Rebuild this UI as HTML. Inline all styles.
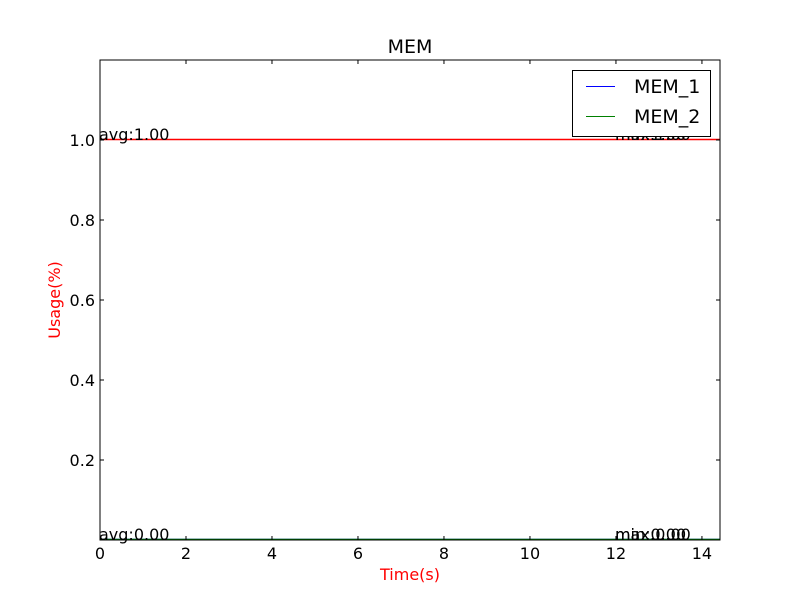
<!DOCTYPE html>
<html><head><meta charset="utf-8"><style>body{margin:0;background:#fff}svg{display:block;font-family:"DejaVu Sans","Liberation Sans",sans-serif}</style></head>
<body>
<svg id="c" width="800" height="600">
<rect width="800" height="600" fill="#fff"/>
<g id="marks"></g>
<g id="axes"></g>
</svg>
<script>
const xTicks=[0,2,4,6,8,10,12,14];
const yTicks=[0.2,0.4,0.6,0.8,1.0];
const times=[0,14.42];
const mem1=[0,0];
const mem2=[0,0];
const memTotal=[1,1];
const annotations=[
 {t:"avg:1.00",x:0,y:1.0},{t:"max:1.00",x:12,y:1.0},{t:"min:1.00",x:12,y:1.0},
 {t:"avg:0.00",x:0,y:0},{t:"max:0.00",x:12,y:0},{t:"min:0.00",x:12,y:0}
];
const X0=100,X1=720,Y0=540,Y1=60,xMax=14.42,yMax=1.2;
const sx=v=>X0+v/xMax*(X1-X0), sy=v=>Y0-v/yMax*(Y0-Y1);
const NS="http://www.w3.org/2000/svg";
function el(tag,attrs,parent,text){const e=document.createElementNS(NS,tag);for(const k in attrs)e.setAttribute(k,attrs[k]);if(text!==undefined)e.textContent=text;parent.appendChild(e);return e;}
const marks=document.getElementById('marks'),axes=document.getElementById('axes');
function line(vals,color,name){const p=el('polyline',{points:times.map((t,i)=>sx(t)+','+(Math.round(sy(vals[i]))-0.5)).join(' '),fill:'none',stroke:color,'stroke-width':1.5},marks);

}
line(mem1,'#0000ff','mem-1-line');
line(mem2,'#008000','mem-2-line');
line(memTotal,'#ff0000','mem-total-line');
annotations.forEach(a=>{const t=el('text',{x:sx(a.x)-1,y:sy(a.y)+0,'font-size':16,fill:'#000'},marks,a.t);

});
const fr=el('rect',{x:X0,y:Y1,width:X1-X0,height:Y0-Y1,fill:'none',stroke:'#000','stroke-width':1},axes);


xTicks.forEach(v=>{const x=sx(v);el('line',{x1:x,x2:x,y1:Y0,y2:Y0-4,stroke:'#000'},axes);el('line',{x1:x,x2:x,y1:Y1,y2:Y1+4,stroke:'#000'},axes);
const t=el('text',{x:x,y:Y0+19,'font-size':16,'text-anchor':'middle'},axes,String(v));

});
yTicks.forEach(v=>{const y=sy(v);el('line',{x1:X0,x2:X0+4,y1:y,y2:y,stroke:'#000'},axes);el('line',{x1:X1,x2:X1-4,y1:y,y2:y,stroke:'#000'},axes);
const t=el('text',{x:X0-5,y:y+6,'font-size':16,'text-anchor':'end'},axes,v.toFixed(1));

});
</script>
<svg style="position:absolute;left:0;top:0" width="800" height="600">
<text x="410" y="53" font-size="19" text-anchor="middle">MEM</text>
<text x="410" y="580" font-size="16" text-anchor="middle" fill="#ff0000">Time(s)</text>
<text transform="translate(60,300) rotate(-90)" font-size="16" text-anchor="middle" fill="#ff0000">Usage(%)</text>
<g>
<rect x="572.5" y="70.5" width="138" height="66" fill="#fff" stroke="#000"/>
<line x1="586" x2="615" y1="86.5" y2="86.5" stroke="#0000ff"/>
<text x="634" y="93" font-size="19">MEM_1</text>
<line x1="586" x2="615" y1="116.5" y2="116.5" stroke="#008000"/>
<text x="634" y="123" font-size="19">MEM_2</text>
</g>
</svg>
</body></html>
